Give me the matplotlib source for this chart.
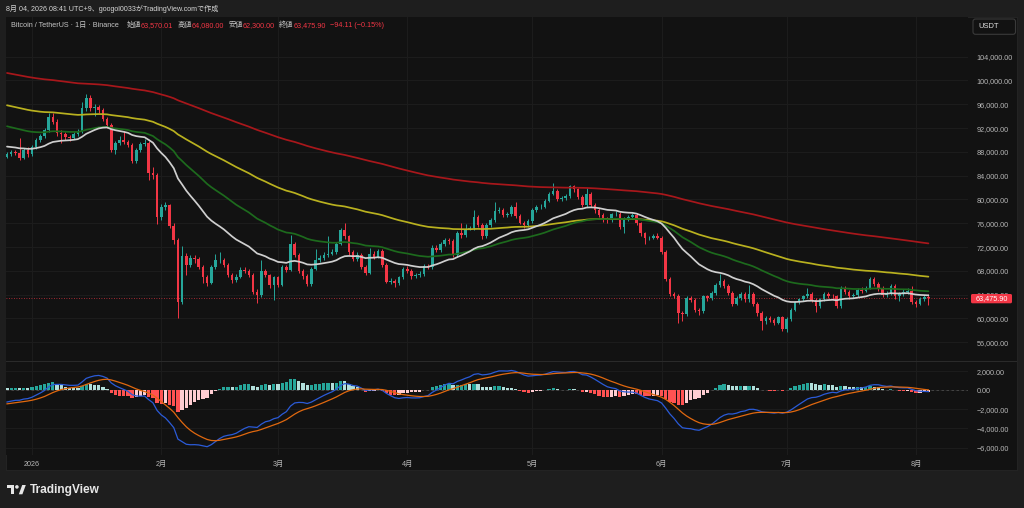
import matplotlib
matplotlib.use('Agg')
import matplotlib.pyplot as plt
import matplotlib.ticker as mticker
from matplotlib.patches import FancyBboxPatch, Rectangle, Polygon, Circle
from matplotlib.transforms import IdentityTransform
import numpy as np
import pandas as pd

plt.rcParams['font.family'] = ['Liberation Sans', 'Noto Sans CJK JP', 'DejaVu Sans']

# ---------------- data (daily BTC/USDT, Dec 26 2025 -> Aug 4 2026) ----------------
first_open = 87200
closes = [
    87600, 87900, 87800, 87000, 88300, 87600,
    88800, 90000, 90600, 91600, 93900, 93100, 91100, 91000, 90500, 90400,
    91000, 91400, 95300, 97000, 95300, 95500, 95100, 93600, 92600, 88300,
    89500, 90000, 89700, 89200, 86500, 88300, 89300, 89500, 84500, 84100,
    77000, 78700, 79000, 75600, 73200, 62800, 70500, 69000, 70200, 70000,
    68700, 67000, 66000, 68700, 69800, 69900, 69000, 67300, 66500, 67000,
    68200, 68000, 67300, 64500, 63900, 68000, 67300, 65600, 66900, 65700,
    68700, 68200, 72600, 70700, 68000, 67100, 65800, 68400, 69800, 70200,
    70700, 70900, 71200, 72600, 74900, 73800, 71100, 70000, 70700, 68700,
    67700, 70900, 70400, 71300, 69000, 66200, 66300, 65900, 66900, 68400,
    68000, 67100, 67300, 67500, 68800, 68700, 71900, 71500, 72500, 73200,
    73000, 70700, 74400, 74000, 75000, 75200, 77100, 75700, 73800, 75700,
    76600, 78100, 78300, 77400, 77500, 78700, 77200, 76100, 75700, 76400,
    78200, 78700, 78800, 79800, 81000, 81500, 80000, 80200, 80600, 82200,
    81700, 80500, 79100, 81000, 79100, 78200, 77400, 76700, 76500, 77500,
    77600, 75400, 76700, 77100, 77400, 76000, 74300, 73500, 73600, 73900,
    73600, 71200, 66600, 64100, 63800, 60900, 60800, 63400, 63100, 61500,
    61300, 63700, 63400, 64300, 65600, 66300, 65500, 64300, 62500, 63400,
    64200, 63200, 64200, 62500, 60900, 59500, 60000, 59800, 59300, 60200,
    58300, 59900, 61500, 62700, 63200, 63700, 64200, 63100, 62100, 63200,
    64200, 63800, 63700, 62100, 65100, 64500, 63700, 63900, 64800, 64700,
    65200, 66600, 65800, 65100, 64000, 64200, 65500, 63700, 64100, 64500,
    64700, 62800, 62500, 63200, 63570.01, 63475.90,
]
highs = [
    87900, 88300, 88300, 90300, 88600, 88800,
    89100, 90300, 91000, 92000, 94600, 94600, 93600, 91600, 91300, 90900,
    91300, 91800, 96400, 97800, 97500, 96000, 95900, 95400, 93900, 92900,
    89900, 90600, 91500, 90000, 89500, 88600, 89600, 90200, 89800, 85500,
    84500, 79200, 79600, 79300, 76000, 73600, 72200, 71000, 70700, 70600,
    70300, 69000, 67300, 69000, 70800, 71100, 70200, 69300, 67600, 67400,
    68600, 68700, 68300, 67600, 64900, 69800, 68400, 67500, 67200, 67100,
    69000, 69000, 74000, 72900, 71000, 68300, 67400, 68700, 71600, 70600,
    71100, 73800, 71600, 72900, 75200, 76000, 74100, 71500, 71200, 71000,
    69000, 71800, 71300, 71600, 71600, 69300, 66800, 66600, 67200, 68700,
    68800, 68300, 67700, 67900, 69100, 69200, 72300, 72400, 72900, 73600,
    73600, 73300, 74700, 76000, 75800, 75600, 78200, 77400, 76000, 76000,
    76900, 79500, 78700, 78600, 77900, 79000, 79500, 77500, 76400, 76800,
    78500, 79000, 79200, 80100, 81300, 82800, 81800, 80600, 81000, 82500,
    82500, 82000, 80800, 81900, 81300, 79400, 78500, 77700, 77000, 77800,
    78000, 77900, 77000, 77400, 77700, 77700, 76300, 74600, 73900, 74200,
    74300, 73900, 71500, 66900, 64500, 64100, 61300, 63800, 63800, 63400,
    61800, 64000, 64000, 64600, 65900, 67500, 66700, 65800, 64600, 63700,
    64500, 64500, 65600, 64500, 62800, 61200, 60400, 60400, 60100, 60500,
    60500, 60200, 61800, 63000, 63500, 64000, 65100, 64500, 63400, 63500,
    64500, 64500, 64200, 64000, 65400, 65400, 64800, 64300, 65100, 65300,
    65500, 66900, 66900, 66100, 65400, 64600, 65800, 65800, 64500, 64900,
    65100, 65400, 63100, 63600, 63900, 64080.00,
]
lows = [
    86900, 87300, 87400, 86700, 86800, 87200,
    87300, 88500, 89700, 90300, 91300, 92700, 90700, 89500, 90000, 89900,
    90100, 90700, 91200, 94900, 94800, 94000, 94600, 93200, 92100, 88000,
    87600, 89200, 89300, 88800, 86100, 86200, 87900, 89000, 83200, 83400,
    75900, 76600, 78200, 75200, 72500, 60000, 62500, 67300, 68600, 69400,
    68300, 65900, 65500, 65800, 68400, 69300, 68600, 66900, 66000, 66100,
    66800, 67600, 66900, 64200, 62600, 63600, 66900, 65200, 63100, 65300,
    65400, 67800, 68000, 70300, 67600, 66600, 65400, 65500, 68100, 69500,
    69900, 70400, 70600, 70900, 72300, 73400, 70700, 69600, 69700, 68300,
    67300, 67500, 70000, 70100, 68700, 65900, 65800, 65300, 65600, 66600,
    67600, 66700, 66800, 67000, 67200, 68300, 68400, 71100, 71200, 72200,
    72600, 70300, 70400, 73600, 73700, 74800, 74900, 75300, 73400, 73500,
    75400, 76300, 77800, 77000, 77100, 77200, 76900, 75800, 75200, 75400,
    76100, 77900, 78400, 78500, 79500, 80700, 79700, 79700, 79900, 80300,
    81300, 80100, 78700, 78800, 78700, 77800, 77000, 76300, 76100, 76200,
    77200, 75000, 74300, 76400, 76800, 75700, 73900, 72600, 73200, 73300,
    73300, 70900, 66300, 63800, 63400, 59200, 59500, 60500, 62700, 61100,
    60600, 61000, 63000, 63100, 64000, 65300, 65100, 63900, 62100, 62200,
    63100, 62800, 62800, 62100, 60500, 58000, 59100, 59400, 58900, 59000,
    57900, 57800, 59600, 61200, 62400, 62900, 63400, 62700, 61100, 61800,
    62900, 63400, 63300, 61700, 61800, 64100, 63200, 63400, 63600, 64300,
    64400, 64900, 65500, 64700, 63600, 63600, 63900, 63300, 63000, 63800,
    64200, 62400, 62000, 62200, 62900, 62300.00,
]

# moving-average / MACD starting levels read at the first candle
ma_specs = [  # (span, level at start, colour)
    (200, 101400, '#a8171b'),
    (100, 96000, '#b9b11f'),
    (50, 92500, '#1d6a1d'),
    (25, 89000, '#cfcfcf'),
]
ema12_start, ema26_start, signal_start = 87900, 89200, -1470

month_starts = ['2026-01-01', '2026-02-01', '2026-03-01', '2026-04-01',
                '2026-05-01', '2026-06-01', '2026-07-01', '2026-08-01']
month_labels = ['2026', '2月', '3月', '4月', '5月', '6月', '7月', '8月']
price_ticks = list(range(56000, 104001, 4000))
macd_ticks = [2000, 0, -2000, -4000, -6000]

# ---------------- helpers ----------------
def ema(vals, span, start):
    a = 2.0 / (span + 1)
    out, prev = [], start
    for v in vals:
        prev = prev + a * (v - prev)
        out.append(prev)
    return np.array(out)

C = np.array(closes, dtype=float)
O = np.array([first_open] + closes[:-1], dtype=float)
Hh = np.array(highs, dtype=float)
Ll = np.array(lows, dtype=float)
dates = pd.date_range(end='2026-08-04', periods=len(C), freq='D')
base = pd.Timestamp('2026-01-01')
x = np.array((dates - base).days, dtype=float)
mx = [(pd.Timestamp(m) - base).days for m in month_starts]

W, Hpx = 1024, 508
def fx(px): return px / W
def fy(py): return 1 - py / Hpx

BG_OUT = '#1e1e1e'
BG = '#121212'
GRID = '#1d1d1d'
TXT = '#b6b6b6'
UP, DN = '#26a69a', '#f23645'

fig = plt.figure(figsize=(10.24, 5.08), dpi=100, facecolor=BG_OUT)

# chart panel
fig.add_artist(Rectangle((6, Hpx - 470), 1011, 453, transform=IdentityTransform(),
                         facecolor=BG, edgecolor='#262626', lw=0.6, zorder=0))

ax = fig.add_axes([fx(6), fy(361), fx(968) - fx(6), fy(17) - fy(361)])
axm = fig.add_axes([fx(6), fy(455), fx(968) - fx(6), fy(361) - fy(455)], sharex=ax)
for a in (ax, axm):
    a.set_facecolor(BG)
    for s in a.spines.values():
        s.set_visible(False)
    a.set_axisbelow(True)

# ---------------- price pane ----------------
up = C >= O
col = np.where(up, UP, DN)
ax.vlines(x, Ll, Hh, colors=col, lw=0.7, zorder=3)
ax.bar(x, np.maximum(np.abs(C - O), 110), bottom=np.minimum(O, C), width=0.62,
       color=col, lw=0, zorder=4)
for span, start, c in ma_specs:
    ax.plot(x, ema(C, span, start), color=c, lw=1.25, zorder=5, solid_capstyle='round')

ax.axhline(C[-1], color=DN, lw=0.6, ls=(0, (1, 2)), alpha=0.85, zorder=2)

ax.set_xlim(-6.24, 224.5)
ax.set_ylim(52856, 110672)
ax.yaxis.tick_right()
ax.set_yticks(price_ticks)
ax.yaxis.set_major_formatter(mticker.FuncFormatter(lambda v, p: f'{v:,.2f}'))
ax.tick_params(axis='y', length=0, pad=6, labelsize=5.2, labelcolor=TXT)
ax.set_xticks(mx)
ax.tick_params(axis='x', length=0, labelbottom=False)
ax.grid(True, color=GRID, lw=0.7)

# ---------------- MACD pane ----------------
e12 = ema(C, 12, ema12_start)
e26 = ema(C, 26, ema26_start)
macd = e12 - e26
sig = ema(macd, 9, signal_start)
hist = macd - sig
prev = np.concatenate([[hist[0]], hist[:-1]])
hcol = np.where(hist >= 0, np.where(hist > prev, '#26a69a', '#b2dfdb'),
                np.where(hist < prev, '#ff5252', '#ffcdd2'))
axm.axhline(0, color='#4a4a4a', lw=0.6, ls=(0, (3, 3)), zorder=1)
axm.bar(x, hist, width=0.78, color=hcol, lw=0, zorder=3)
axm.plot(x, macd, color='#2b5bd8', lw=0.9, zorder=4)
axm.plot(x, sig, color='#e0680f', lw=0.9, zorder=4)
axm.set_ylim(-6784, 3072)
axm.yaxis.tick_right()
axm.set_yticks(macd_ticks)
axm.yaxis.set_major_formatter(mticker.FuncFormatter(
    lambda v, p: (f'{v:,.2f}' if v >= 0 else '\u2212' + f'{-v:,.2f}')))
axm.tick_params(axis='y', length=0, pad=6, labelsize=5.2, labelcolor=TXT)
axm.set_xticks(mx)
axm.set_xticklabels(month_labels)
axm.tick_params(axis='x', length=0, pad=4, labelsize=5.2, labelcolor=TXT)
axm.grid(True, color=GRID, lw=0.7)

# pane separator
fig.add_artist(Rectangle((6, Hpx - 361.5), 1011, 1.0, transform=IdentityTransform(),
                         facecolor='#2a2a2a', lw=0, zorder=3))

# ---------------- labels & header ----------------
fig.add_artist(FancyBboxPatch((971, Hpx - 303.3), 41, 9.3, transform=IdentityTransform(),
                              boxstyle='round,pad=0,rounding_size=1.5',
                              facecolor=DN, lw=0, zorder=6))
fig.text(fx(991.5), fy(298.6), f'{C[-1]:,.2f}', color='white', fontsize=5.2,
         ha='center', va='center', zorder=7)

fig.add_artist(FancyBboxPatch((973, Hpx - 34.3), 42.5, 15.3, transform=IdentityTransform(),
                              boxstyle='round,pad=0,rounding_size=2.5',
                              facecolor=BG, edgecolor='#3a3a3a', lw=0.8, zorder=6))
fig.text(fx(978.5), fy(26.8), 'USDT', color='#e0e0e0', fontsize=5.4,
         ha='left', va='center', zorder=7)

fig.text(fx(6), fy(9), '8月 04, 2026 08:41 UTC+9、googol0033がTradingView.comで作成',
         color='#d6d6d6', fontsize=5.1, va='center', ha='left')

info_y = fy(25.3)
GRAYT = '#c4c4c4'
fig.text(fx(11), info_y, 'Bitcoin / TetherUS · 1日 · Binance', color=GRAYT, fontsize=5.2, va='center')
for lx, lab, vx, val in [(127, '始値', 141, f'{O[-1]:,.2f}'),
                         (178, '高値', 192, f'{Hh[-1]:,.2f}'),
                         (229, '安値', 243, f'{Ll[-1]:,.2f}'),
                         (279, '終値', 293.3, f'{C[-1]:,.2f}')]:
    fig.text(fx(lx), info_y, lab, color=GRAYT, fontsize=5.2, va='center')
    fig.text(fx(vx), info_y, val, color=DN, fontsize=5.2, va='center')
chg = C[-1] - O[-1]
fig.text(fx(330.5), info_y, f'\u2212{abs(chg):.2f} (\u2212{abs(chg) / O[-1] * 100:.2f}%)',
         color=DN, fontsize=5.2, va='center')

# TradingView logo
lc = '#e6e6e6'
fig.add_artist(Polygon([(7.3, Hpx - 485), (14.2, Hpx - 485), (14.2, Hpx - 494.3),
                        (10.8, Hpx - 494.3), (10.8, Hpx - 488.4), (7.3, Hpx - 488.4)],
                       closed=True, transform=IdentityTransform(), facecolor=lc, lw=0, zorder=6))
fig.add_artist(Circle((16.9, Hpx - 486.9), 1.8, transform=IdentityTransform(),
                      facecolor=lc, lw=0, zorder=6))
fig.add_artist(Polygon([(18.8, Hpx - 494.3), (22.4, Hpx - 494.3), (25.8, Hpx - 485),
                        (22.2, Hpx - 485)], closed=True, transform=IdentityTransform(),
                       facecolor=lc, lw=0, zorder=6))
fig.text(fx(29.5), fy(490.3), 'TradingView', color=lc, fontsize=8.6,
         fontweight='bold', va='center', ha='left')

fig.savefig('out.png', dpi=100, facecolor=BG_OUT)
